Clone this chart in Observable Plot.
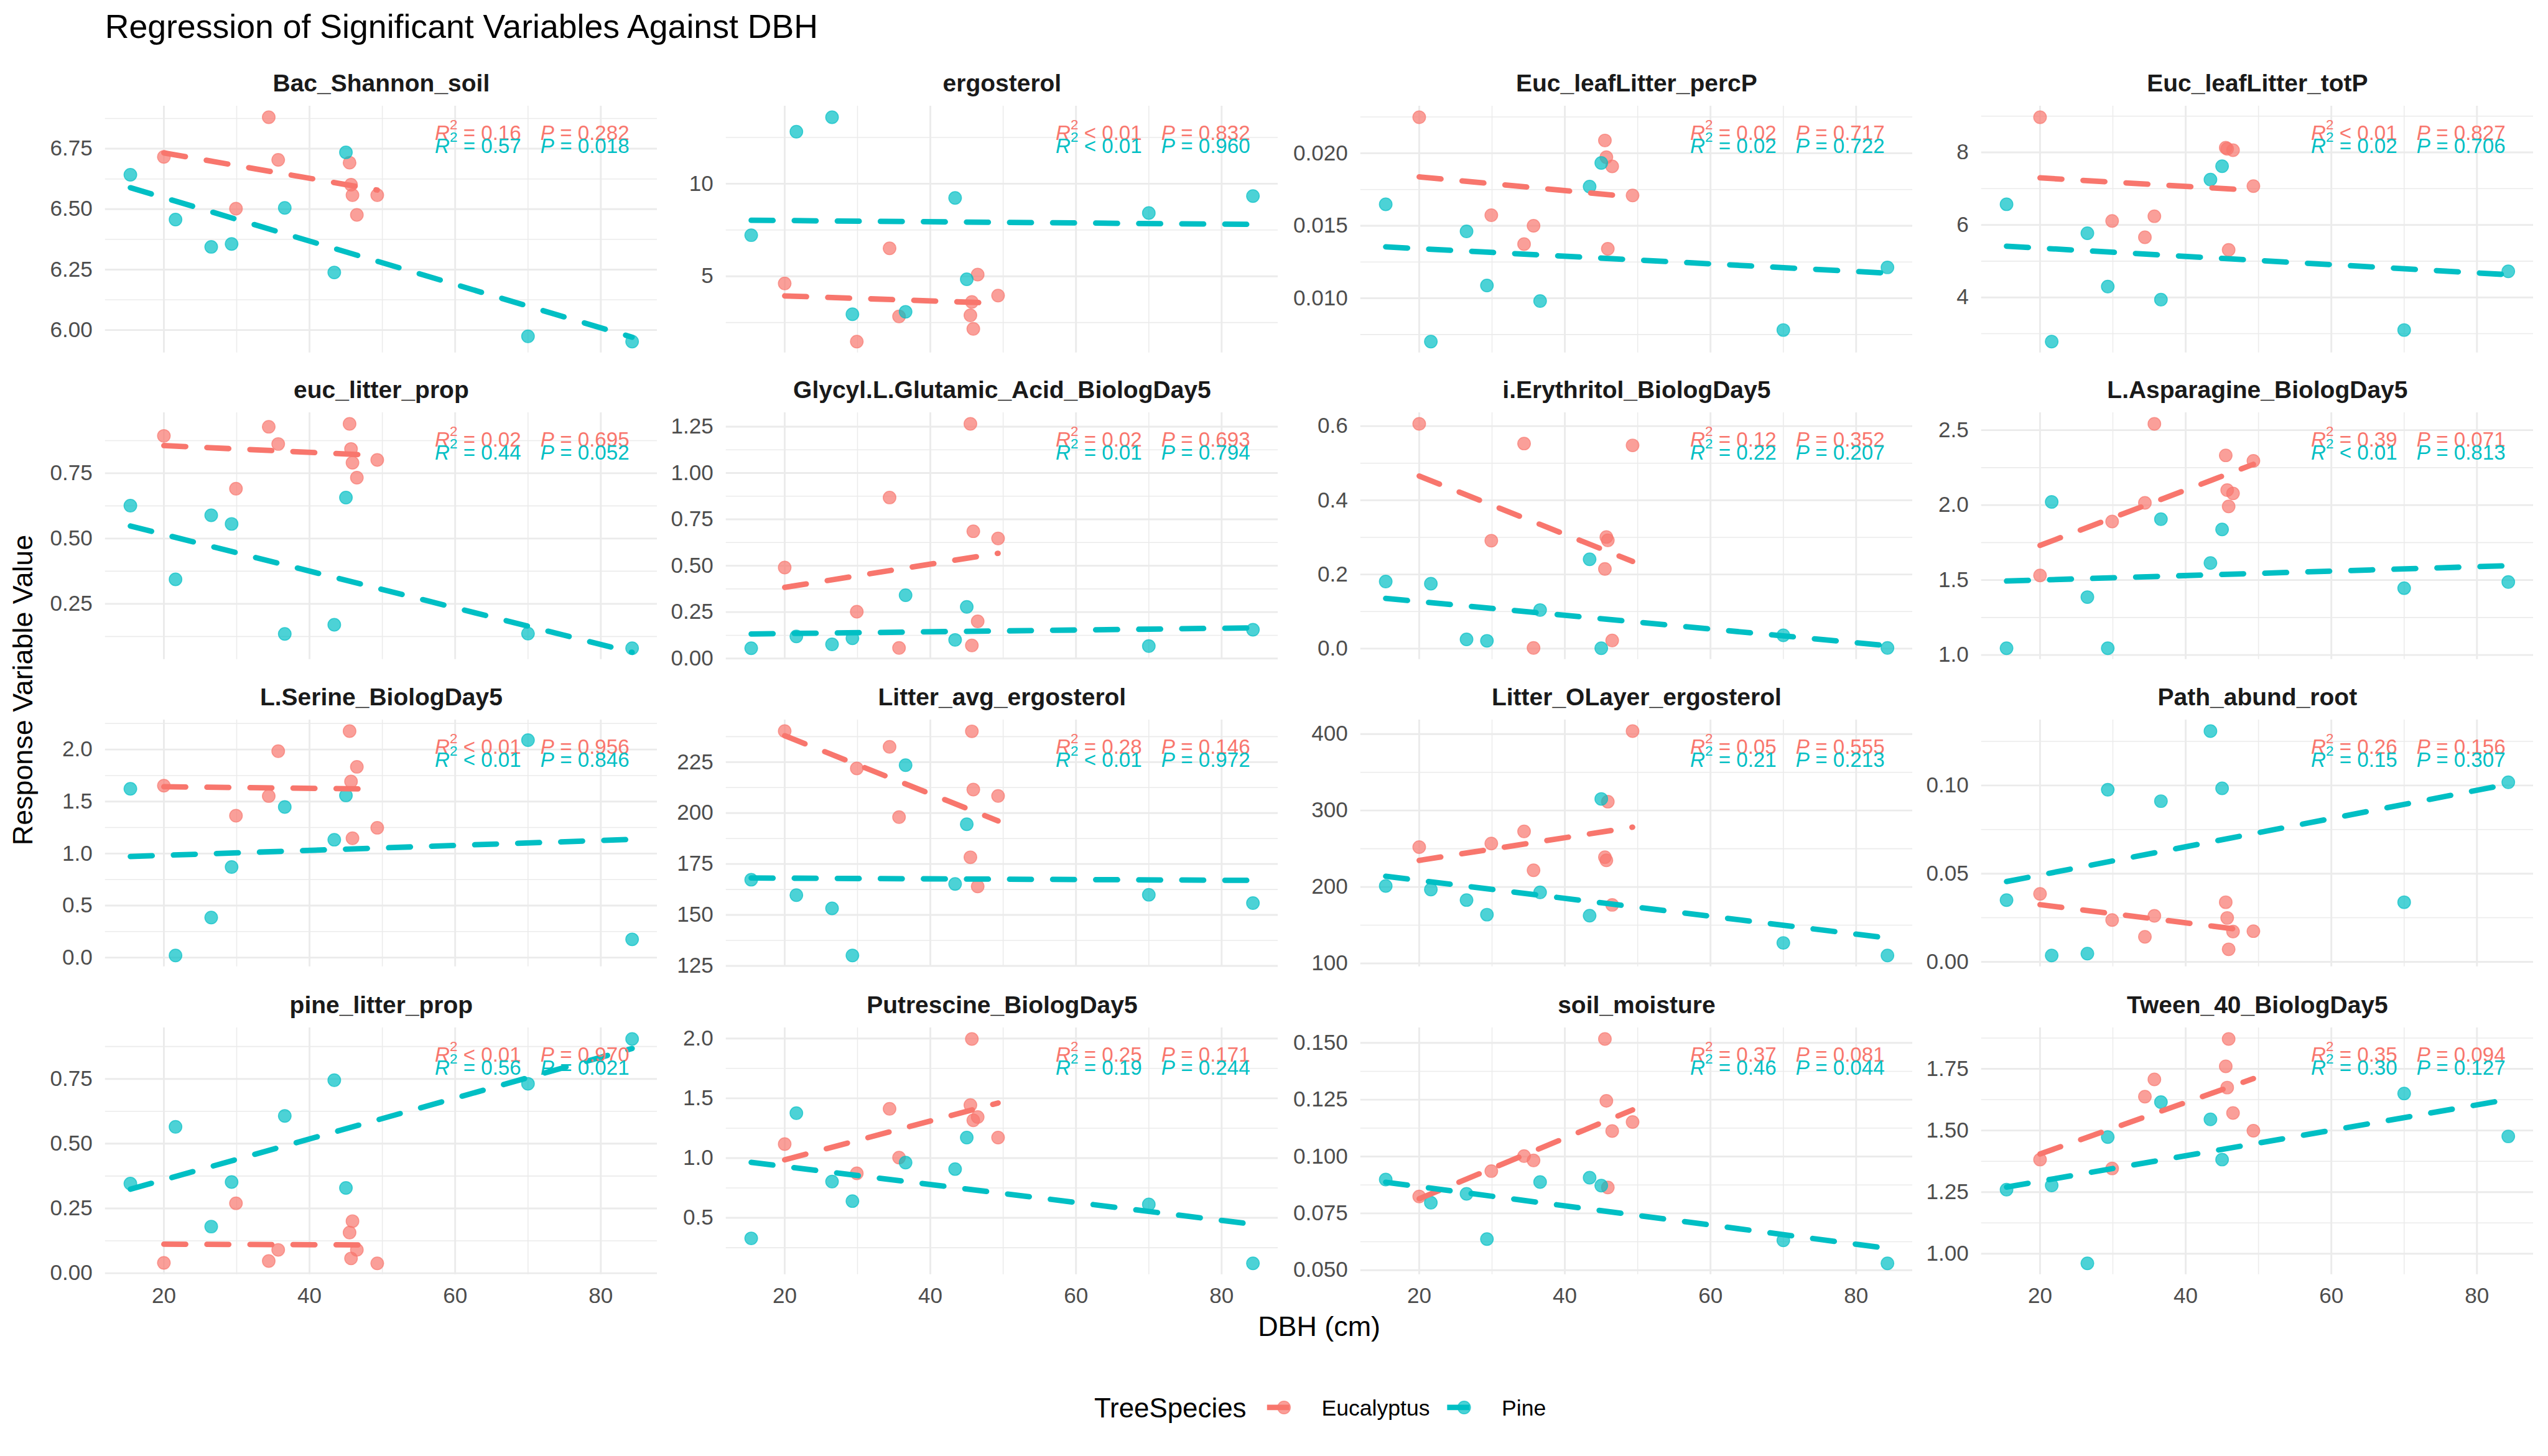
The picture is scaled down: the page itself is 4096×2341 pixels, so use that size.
<!DOCTYPE html>
<html><head><meta charset="utf-8">
<script src="https://cdn.jsdelivr.net/npm/d3@7"></script>
<script src="https://cdn.jsdelivr.net/npm/@observablehq/plot@0.6"></script>
<style>
html,body{margin:0;padding:0;background:#fff;}
#chart{position:relative;width:4095px;height:2340px;overflow:hidden;font-family:"Liberation Sans",Arial,Helvetica,sans-serif;}
#chart svg{position:absolute;}
</style></head><body><div id="chart"></div>
<script>
// ---------------- data ----------------
const species = ["Eucalyptus", "Pine"];
const speciesColors = ["#F8766D", "#00BFC4"];
const dbhEuc  = [20.0, 29.9, 34.4, 35.7, 45.5, 45.7, 45.9, 46.5, 49.3];
const dbhPine = [15.4, 21.6, 26.5, 29.3, 36.6, 43.4, 45.0, 70.0, 84.3];
const xTicks = [20, 40, 60, 80];

const variables = ["Bac_Shannon_soil", "ergosterol", "Euc_leafLitter_percP", "Euc_leafLitter_totP",
  "euc_litter_prop", "Glycyl.L.Glutamic_Acid_BiologDay5", "i.Erythritol_BiologDay5", "L.Asparagine_BiologDay5",
  "L.Serine_BiologDay5", "Litter_avg_ergosterol", "Litter_OLayer_ergosterol", "Path_abund_root",
  "pine_litter_prop", "Putrescine_BiologDay5", "soil_moisture", "Tween_40_BiologDay5"];

const bacShannonEuc  = [6.716, 6.502, 6.880, 6.704, 6.692, 6.601, 6.558, 6.476, 6.558];
const bacShannonPine = [6.642, 6.457, 6.344, 6.356, 6.505, 6.238, 6.735, 5.974, 5.952];
const bacShannonTicks = ["6.00", "6.25", "6.50", "6.75"];

const ergosterolEuc  = [4.61, 1.47, 6.51, 2.83, 2.89, 3.61, 2.16, 5.09, 3.96];
const ergosterolPine = [7.22, 12.81, 13.59, 2.95, 3.08, 9.23, 4.84, 8.42, 9.33];
const ergosterolTicks = ["5", "10"];

const percPEuc  = [0.02248, 0.01573, 0.01373, 0.01500, 0.02088, 0.01973, 0.01341, 0.01909, 0.01709];
const percPPine = [0.01648, 0.00701, 0.01461, 0.01088, 0.00981, 0.01770, 0.01933, 0.00781, 0.01213];
const percPTicks = ["0.010", "0.015", "0.020"];

const totPEuc  = [8.97, 6.11, 5.66, 6.24, 8.13, 8.10, 5.31, 8.06, 7.07];
const totPPine = [6.57, 2.78, 5.77, 4.30, 3.94, 7.25, 7.62, 3.10, 4.72];
const totPTicks = ["4", "6", "8"];

const eucPropEuc  = [0.893, 0.691, 0.928, 0.862, 0.939, 0.843, 0.790, 0.733, 0.801];
const eucPropPine = [0.626, 0.344, 0.589, 0.556, 0.135, 0.170, 0.657, 0.136, 0.080];
const eucPropTicks = ["0.25", "0.50", "0.75"];

const glycylEuc  = [0.490, 0.252, 0.868, 0.057, 1.265, 0.070, 0.686, 0.200, 0.647];
const glycylPine = [0.055, 0.119, 0.076, 0.109, 0.341, 0.100, 0.278, 0.067, 0.155];
const glycylTicks = ["0.00", "0.25", "0.50", "0.75", "1.00", "1.25"];

const erythritolEuc  = [0.606, 0.291, 0.553, 0.002, 0.215, 0.301, 0.292, 0.022, 0.548];
const erythritolPine = [0.181, 0.175, 0.025, 0.021, 0.104, 0.241, 0.001, 0.036, 0.002];
const erythritolTicks = ["0.0", "0.2", "0.4", "0.6"];

const asparagineEuc  = [1.531, 1.891, 2.015, 2.542, 2.332, 2.100, 1.991, 2.078, 2.295];
const asparaginePine = [1.045, 2.021, 1.386, 1.045, 1.906, 1.614, 1.838, 1.446, 1.487];
const asparagineTicks = ["1.0", "1.5", "2.0", "2.5"];

const serineEuc  = [1.653, 1.364, 1.553, 1.984, 2.177, 1.693, 1.147, 1.834, 1.248];
const serinePine = [1.623, 0.020, 0.385, 0.871, 1.448, 1.133, 1.559, 2.090, 0.175];
const serineTicks = ["0.0", "0.5", "1.0", "1.5", "2.0"];

const litterAvgEuc  = [240.2, 221.9, 232.5, 198.0, 178.3, 240.1, 211.5, 164.0, 208.4];
const litterAvgPine = [167.3, 159.7, 153.2, 130.1, 223.5, 165.2, 194.5, 159.9, 155.8];
const litterAvgTicks = ["125", "150", "175", "200", "225"];

const oLayerEuc  = [252.2, 256.8, 272.7, 221.8, 239.0, 234.9, 311.6, 176.6, 403.8];
const oLayerPine = [201.3, 196.6, 182.9, 163.8, 193.0, 162.4, 315.1, 126.8, 110.4];
const oLayerTicks = ["100", "200", "300", "400"];

const pathEuc  = [0.0385, 0.0237, 0.0142, 0.0261, 0.0338, 0.0249, 0.0071, 0.0172, 0.0174];
const pathPine = [0.0350, 0.0036, 0.0047, 0.0976, 0.0911, 0.1308, 0.0984, 0.0338, 0.1018];
const pathTicks = ["0.00", "0.05", "0.10"];

const pinePropEuc  = [0.040, 0.270, 0.047, 0.090, 0.157, 0.057, 0.201, 0.090, 0.038];
const pinePropPine = [0.346, 0.565, 0.180, 0.352, 0.607, 0.745, 0.329, 0.731, 0.904];
const pinePropTicks = ["0.00", "0.25", "0.50", "0.75"];

const putrescineEuc  = [1.117, 0.872, 1.412, 1.004, 1.443, 1.996, 1.316, 1.343, 1.171];
const putrescinePine = [0.328, 1.376, 0.803, 0.640, 0.962, 0.908, 1.171, 0.612, 0.119];
const putrescineTicks = ["0.5", "1.0", "1.5", "2.0"];

const moistureEuc  = [0.0824, 0.0936, 0.1002, 0.0983, 0.1517, 0.1245, 0.0864, 0.1112, 0.1152];
const moisturePine = [0.0899, 0.0797, 0.0836, 0.0637, 0.0888, 0.0907, 0.0872, 0.0631, 0.0530];
const moistureTicks = ["0.050", "0.075", "0.100", "0.125", "0.150"];

const tweenEuc  = [1.382, 1.346, 1.637, 1.707, 1.760, 1.674, 1.871, 1.571, 1.499];
const tweenPine = [1.260, 1.277, 0.961, 1.473, 1.615, 1.545, 1.382, 1.650, 1.476];
const tweenTicks = ["1.00", "1.25", "1.50", "1.75"];

const r2Euc  = ["= 0.16","< 0.01","= 0.02","< 0.01","= 0.02","= 0.02","= 0.12","= 0.39","< 0.01","= 0.28","= 0.05","= 0.26","< 0.01","= 0.25","= 0.37","= 0.35"];
const pEuc   = ["0.282","0.832","0.717","0.827","0.695","0.693","0.352","0.071","0.956","0.146","0.555","0.156","0.970","0.171","0.081","0.094"];
const r2Pine = ["= 0.57","< 0.01","= 0.02","= 0.02","= 0.44","= 0.01","= 0.22","< 0.01","< 0.01","< 0.01","= 0.21","= 0.15","= 0.56","= 0.19","= 0.46","= 0.30"];
const pPine  = ["0.018","0.960","0.722","0.706","0.052","0.794","0.207","0.813","0.846","0.972","0.213","0.307","0.021","0.244","0.044","0.127"];

const eucValues  = [bacShannonEuc, ergosterolEuc, percPEuc, totPEuc, eucPropEuc, glycylEuc, erythritolEuc, asparagineEuc,
  serineEuc, litterAvgEuc, oLayerEuc, pathEuc, pinePropEuc, putrescineEuc, moistureEuc, tweenEuc];
const pineValues = [bacShannonPine, ergosterolPine, percPPine, totPPine, eucPropPine, glycylPine, erythritolPine, asparaginePine,
  serinePine, litterAvgPine, oLayerPine, pathPine, pinePropPine, putrescinePine, moisturePine, tweenPine];
const tickLabels = [bacShannonTicks, ergosterolTicks, percPTicks, totPTicks, eucPropTicks, glycylTicks, erythritolTicks, asparagineTicks,
  serineTicks, litterAvgTicks, oLayerTicks, pathTicks, pinePropTicks, putrescineTicks, moistureTicks, tweenTicks];

// ---------------- layout (reference px, scaled by s) ----------------
const s = 0.975;
const FONT = '"Liberation Sans", Arial, Helvetica, sans-serif';
const colLeft = [173, 1197, 2243, 3266];
const rowTop = [174, 680.5, 1187, 1694];
const PW = 910, PH = 407;
const ML = 130, MR = 20, MT = 80, MB = 70;

function expand([a, b]) { const p = (b - a) * 0.05; return [a - p, b + p]; }
function minorOf(ticks, domain) {
  const st = ticks[1] - ticks[0];
  const m = [ticks[0] - st / 2, ...ticks.map(t => t + st / 2)];
  return m.filter(v => v >= domain[0] && v <= domain[1]);
}
const xDomain = expand(d3.extent([...dbhEuc, ...dbhPine]));
const xMinor = minorOf(xTicks, xDomain);
const chart = document.getElementById("chart");
const SVGNS = "http://www.w3.org/2000/svg";

// italic R / P and superscript 2, as in the plotmath labels
function richAnnotation(svg) {
  svg.querySelectorAll("text").forEach(t => {
    const m = (t.textContent || "").match(/^R² ([=<]) ([\d.]+)\s+P = ([\d.]+)$/);
    if (!m) return;
    while (t.firstChild) t.removeChild(t.firstChild);
    const add = (txt, attrs = {}) => {
      const ts = document.createElementNS(SVGNS, "tspan");
      ts.textContent = txt;
      for (const k in attrs) ts.setAttribute(k, attrs[k]);
      t.appendChild(ts);
    };
    add("R", {"font-style": "italic"});
    add("2", {"font-size": 23 * s, dy: -18 * s});
    add(`\u00a0${m[1]}\u00a0${m[2]}`, {dy: 18 * s});
    add("P", {"font-style": "italic", dx: 32 * s});
    add(`\u00a0=\u00a0${m[3]}`);
  });
}

variables.forEach((name, i) => {
  const row = Math.floor(i / 4), col = i % 4;
  const data = [
    ...eucValues[i].map((v, j) => ({dbh: dbhEuc[j], value: v, species: "Eucalyptus"})),
    ...pineValues[i].map((v, j) => ({dbh: dbhPine[j], value: v, species: "Pine"}))
  ];
  const yDomain = expand(d3.extent(data, d => d.value));
  const labels = tickLabels[i];
  const yTicks = labels.map(Number);
  const fmt = new Map(yTicks.map((v, k) => [v, labels[k]]));
  const yMinor = minorOf(yTicks, yDomain);
  const grid = {stroke: "#EBEBEB", strokeOpacity: 1};
  const marks = [
    Plot.gridX(xMinor, {...grid, strokeWidth: 1.6 * s}),
    Plot.gridY(yMinor, {...grid, strokeWidth: 1.6 * s}),
    Plot.gridX(xTicks, {...grid, strokeWidth: 3 * s}),
    Plot.gridY(yTicks, {...grid, strokeWidth: 3 * s}),
    Plot.axisY(yTicks, {tickSize: 0, tickPadding: 21 * s, fontSize: 36 * s, color: "#4D4D4D", tickFormat: d => fmt.get(d), label: null})
  ];
  if (row === 3) marks.push(Plot.axisX(xTicks, {tickSize: 0, tickPadding: 21 * s, fontSize: 36 * s, color: "#4D4D4D", label: null}));
  marks.push(
    Plot.dot(data, {x: "dbh", y: "value", fill: "species", stroke: "species", r: 10.5 * s,
      fillOpacity: 0.7, strokeOpacity: 0.7, strokeWidth: 1.5 * s}),
    Plot.linearRegressionY(data, {x: "dbh", y: "value", stroke: "species", ci: 0,
      strokeWidth: 9 * s, strokeDasharray: `${36 * s},${35 * s}`}),
    Plot.text([name], {text: d => d, frameAnchor: "top", dy: -24 * s, lineAnchor: "bottom",
      fontSize: 40 * s, fontWeight: "bold", fill: "#1A1A1A"}),
    Plot.text([`R² ${r2Euc[i]}   P = ${pEuc[i]}`], {text: d => d, frameAnchor: "top-right", textAnchor: "end",
      lineAnchor: "bottom", dx: -46 * s, dy: 56 * s, fontSize: 34 * s, fill: speciesColors[0]}),
    Plot.text([`R² ${r2Pine[i]}   P = ${pPine[i]}`], {text: d => d, frameAnchor: "top-right", textAnchor: "end",
      lineAnchor: "bottom", dx: -46 * s, dy: 77 * s, fontSize: 34 * s, fill: speciesColors[1]})
  );
  const svg = Plot.plot({
    width: (PW + ML + MR) * s, height: (PH + MT + MB) * s,
    marginLeft: ML * s, marginRight: MR * s, marginTop: MT * s, marginBottom: MB * s,
    x: {domain: xDomain, axis: null},
    y: {domain: yDomain, axis: null},
    color: {domain: species, range: speciesColors},
    style: {background: "transparent", overflow: "visible", fontFamily: FONT, color: "#4D4D4D"},
    marks
  });
  svg.style.position = "absolute";
  svg.style.left = `${(colLeft[col] - ML) * s}px`;
  svg.style.top = `${(rowTop[row] - MT) * s}px`;
  svg.style.background = "transparent";
  svg.style.overflow = "visible";
  svg.style.maxWidth = "none";
  richAnnotation(svg);
  chart.appendChild(svg);
});

// ---------------- titles and legend ----------------
const ov = d3.select(chart).append("svg")
  .attr("width", 4095).attr("height", 2340)
  .style("left", "0px").style("top", "0px").style("pointer-events", "none")
  .style("font-family", FONT);
ov.append("text").attr("x", 173 * s).attr("y", 63 * s).attr("font-size", 55 * s).attr("fill", "#000")
  .text("Regression of Significant Variables Against DBH");
ov.append("text").attr("transform", `translate(${53 * s},${1138 * s}) rotate(-90)`).attr("text-anchor", "middle")
  .attr("font-size", 46 * s).attr("fill", "#000").text("Response Variable Value");
ov.append("text").attr("x", 2175 * s).attr("y", 2203 * s).attr("text-anchor", "middle")
  .attr("font-size", 46 * s).attr("fill", "#000").text("DBH (cm)");
const keyY = 2321;
ov.append("text").attr("x", 1804 * s).attr("y", (keyY + 16) * s).attr("font-size", 45 * s).attr("fill", "#000").text("TreeSpecies");
const keyX = [2089, 2386], labelX = [2179, 2476];
species.forEach((sp, k) => {
  ov.append("line").attr("x1", keyX[k] * s).attr("x2", (keyX[k] + 37) * s).attr("y1", keyY * s).attr("y2", keyY * s)
    .attr("stroke", speciesColors[k]).attr("stroke-width", 9 * s);
  ov.append("circle").attr("cx", (keyX[k] + 28) * s).attr("cy", keyY * s).attr("r", 10.5 * s)
    .attr("fill", speciesColors[k]).attr("fill-opacity", 0.7)
    .attr("stroke", speciesColors[k]).attr("stroke-opacity", 0.7).attr("stroke-width", 1.5 * s);
  ov.append("text").attr("x", labelX[k] * s).attr("y", (keyY + 13) * s).attr("font-size", 36.5 * s).attr("fill", "#000").text(sp);
});
</script></body></html>
